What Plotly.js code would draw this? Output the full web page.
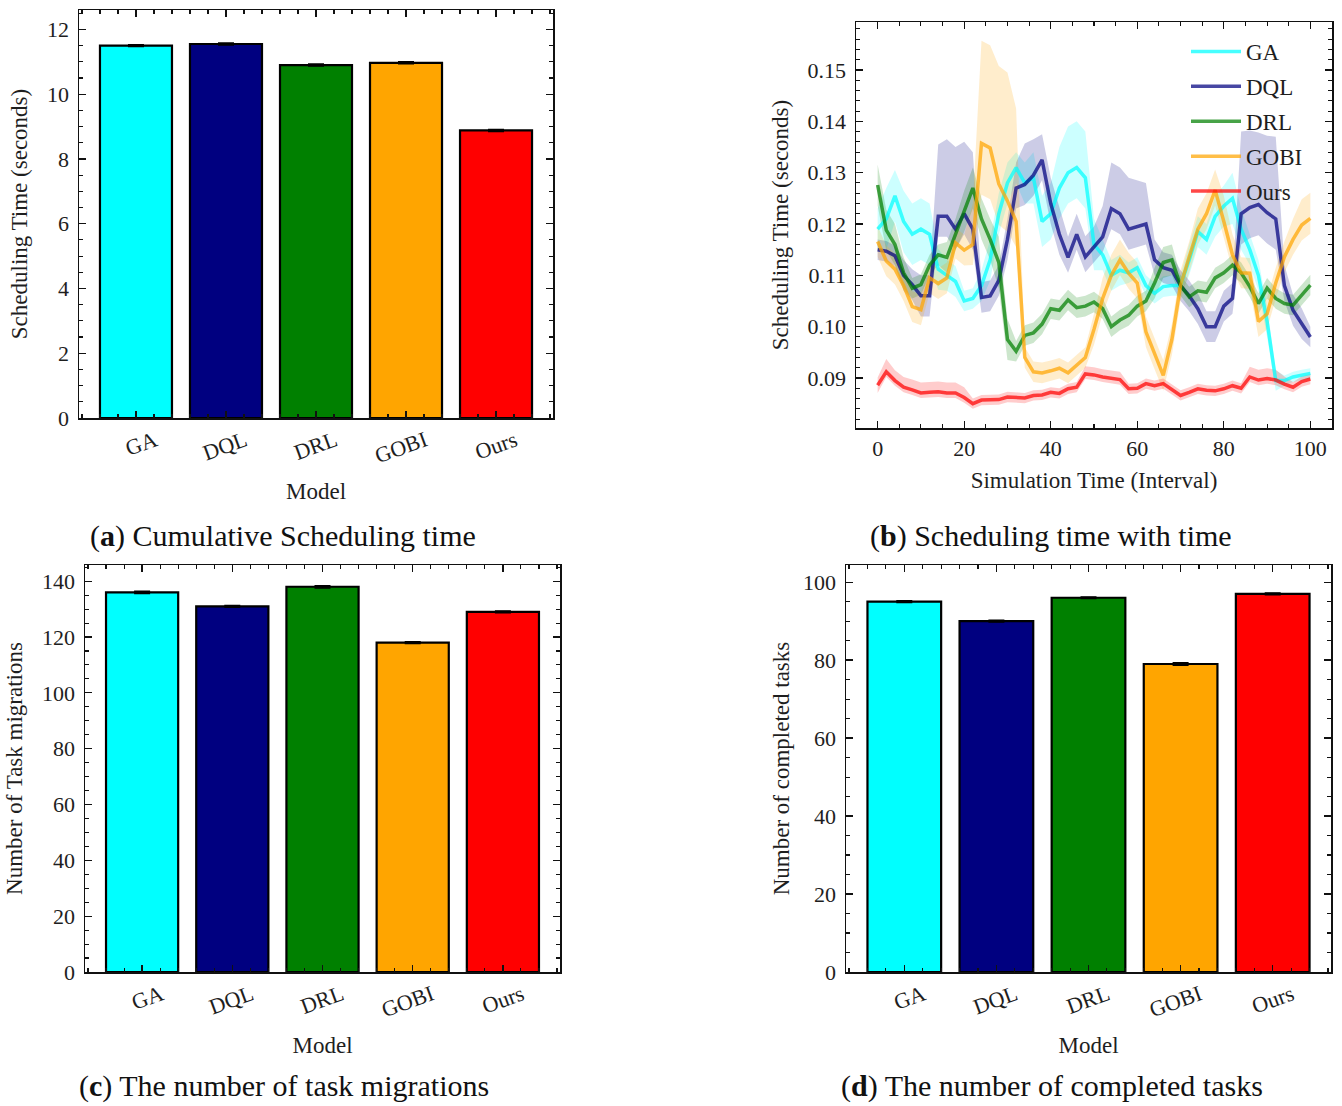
<!DOCTYPE html>
<html><head><meta charset="utf-8">
<script src="https://cdn.plot.ly/plotly-3.0.1.min.js"></script>
<style>html,body{margin:0;padding:0;background:#fff}#chart{width:1342px;height:1106px}</style>
</head><body><div id="chart"></div>
<script>
// ---------- data ----------
const models = ['GA', 'DQL', 'DRL', 'GOBI', 'Ours'];
const barColors = ['#00ffff', '#000080', '#008000', '#ffa500', '#ff0000'];

const schedTotal = [11.50, 11.55, 10.90, 10.97, 8.88];
const schedTotalErr = [0.03, 0.03, 0.03, 0.03, 0.03];
const migrations = [136, 131, 138, 118, 129];
const migrationsErr = [0.4, 0.3, 0.4, 0.3, 0.3];
const completed = [95, 90, 96, 79, 97];
const completedErr = [0.2, 0.2, 0.2, 0.3, 0.2];

const interval = [0,2,4,6,8,10,12,14,16,18,20,22,24,26,28,30,32,34,36,38,40,42,44,46,48,50,
  52,54,56,58,60,62,64,66,68,70,72,74,76,78,80,82,84,86,88,90,92,94,96,98,100];

const gaMean = [.1190,.1210,.1255,.1205,.1180,.1190,.1180,.1112,.1100,.1088,.1050,.1055,.1080,.1130,.1220,.1280,.1310,.1280,.1290,.1205,.1220,.1270,.1300,.1310,.1290,.1160,
  .1140,.1100,.1110,.1105,.1115,.1080,.1065,.1078,.1080,.1080,.1130,.1185,.1170,.1215,.1235,.1250,.1190,.1150,.1100,.1010,.0895,.0895,.0902,.0906,.0909];
const gaUp = [.004,.006,.005,.006,.006,.006,.006,.004,.003,.003,.002,.002,.003,.004,.004,.004,.003,.004,.005,.005,.006,.008,.009,.009,.009,.005,
  .003,.003,.003,.002,.002,.002,.002,.002,.002,.002,.003,.003,.003,.004,.004,.005,.004,.003,.003,.003,.002,.001,.001,.001,.001];
const gaDn = [.004,.006,.005,.006,.006,.006,.006,.004,.003,.003,.002,.002,.003,.004,.004,.004,.003,.004,.005,.005,.005,.006,.006,.006,.006,.005,
  .003,.003,.003,.002,.002,.002,.002,.002,.002,.002,.003,.003,.003,.004,.004,.005,.004,.003,.003,.003,.002,.001,.001,.001,.001];

const dqlMean = [.1150,.1147,.1138,.1100,.1082,.1060,.1060,.1215,.1215,.1190,.1220,.1190,.1057,.1060,.1090,.1170,.1270,.1277,.1295,.1325,.1240,.1180,.1135,.1180,.1136,.1155,
  .1175,.1230,.1220,.1190,.1195,.1200,.1130,.1115,.1110,.1080,.1060,.1035,.1000,.1000,.1040,.1055,.1220,.1232,.1238,.1222,.1210,.1080,.1032,.1006,.0980];
const dqlUp = [.002,.002,.002,.003,.003,.004,.004,.014,.015,.016,.014,.015,.003,.003,.003,.004,.005,.008,.007,.005,.005,.005,.004,.004,.004,.004,
  .006,.009,.009,.010,.009,.008,.004,.003,.003,.003,.003,.003,.003,.003,.003,.003,.016,.015,.014,.015,.016,.004,.003,.003,.002];
const dqlDn = [.002,.002,.002,.003,.003,.004,.004,.004,.004,.004,.004,.004,.003,.003,.003,.004,.004,.004,.004,.004,.004,.004,.003,.003,.003,.003,
  .003,.004,.004,.004,.004,.004,.003,.003,.003,.003,.003,.003,.003,.003,.003,.003,.006,.006,.006,.006,.006,.003,.003,.003,.002];

const drlMean = [.1276,.1188,.1160,.1105,.1075,.1082,.1120,.1140,.1135,.1180,.1225,.1270,.1210,.1170,.1125,.0975,.0952,.0983,.0988,.1005,.1035,.1032,.1052,.1037,.1040,.1048,
  .1035,.1000,.1013,.1022,.1040,.1050,.1085,.1125,.1130,.1080,.1058,.1070,.1067,.1095,.1105,.1120,.1105,.1078,.1045,.1075,.1055,.1045,.1042,.1062,.1081];
const drlSpread = [.004,.004,.004,.003,.002,.002,.002,.002,.003,.003,.004,.004,.004,.004,.005,.004,.002,.002,.002,.002,.002,.002,.002,.002,.002,.002,
  .002,.002,.002,.002,.002,.002,.003,.003,.003,.002,.002,.002,.002,.002,.002,.002,.002,.002,.002,.002,.002,.002,.002,.002,.002];

const gobiMean = [.1166,.1128,.1112,.1080,.1039,.1033,.1095,.1084,.1095,.1163,.1149,.1160,.1357,.1348,.1278,.1245,.1205,.0940,.0912,.0910,.0914,.0919,.0910,.0925,.0940,.0995,
  .1055,.1100,.1130,.1104,.1085,.0990,.0947,.0905,.0975,.1080,.1136,.1190,.1220,.1266,.1205,.1140,.1105,.1104,.1010,.1025,.1085,.1136,.1170,.1198,.1211];
const gobiUp = [.003,.003,.003,.003,.003,.003,.003,.003,.003,.003,.003,.008,.020,.020,.023,.025,.022,.002,.002,.002,.002,.002,.002,.002,.002,.003,
  .004,.004,.004,.004,.004,.003,.003,.003,.003,.003,.003,.004,.004,.004,.005,.004,.003,.003,.003,.003,.003,.003,.004,.005,.005];
const gobiDn = [.003,.003,.003,.003,.003,.003,.003,.003,.003,.003,.003,.004,.010,.010,.008,.006,.005,.002,.002,.002,.002,.002,.002,.002,.002,.003,
  .003,.003,.003,.003,.003,.003,.003,.003,.003,.003,.003,.003,.003,.003,.003,.003,.003,.003,.003,.003,.003,.003,.003,.003,.003];

const oursMean = [.0886,.0912,.0895,.0882,.0877,.0871,.0872,.0873,.0871,.0871,.0862,.0850,.0857,.0857,.0858,.0863,.0862,.0861,.0866,.0867,.0872,.0870,.0879,.0882,.0908,.0906,
  .0902,.0899,.0897,.0879,.0880,.0889,.0885,.0889,.0878,.0866,.0872,.0879,.0876,.0875,.0879,.0885,.0880,.0902,.0896,.0899,.0896,.0888,.0882,.0893,.0898];
const oursUp = [.0015,.0025,.002,.002,.002,.002,.002,.002,.002,.002,.002,.001,.001,.001,.001,.001,.001,.001,.001,.001,.001,.001,.001,.001,.0015,.0015,
  .0015,.0015,.0015,.001,.001,.001,.001,.001,.001,.001,.001,.001,.001,.001,.001,.001,.001,.002,.002,.002,.002,.0015,.001,.001,.001];
const oursDn = [.0015,.001,.001,.001,.001,.001,.001,.001,.001,.001,.001,.001,.001,.001,.001,.001,.001,.001,.001,.001,.001,.001,.001,.001,.001,.001,
  .001,.001,.001,.001,.001,.001,.001,.001,.001,.001,.001,.001,.001,.001,.001,.001,.001,.001,.001,.001,.001,.001,.001,.001,.001];

const lineSeries = [
  {name: 'GA',   mean: gaMean,   up: gaUp,      dn: gaDn,      rgb: '0,255,255'},
  {name: 'DQL',  mean: dqlMean,  up: dqlUp,     dn: dqlDn,     rgb: '0,0,128'},
  {name: 'DRL',  mean: drlMean,  up: drlSpread, dn: drlSpread, rgb: '0,128,0'},
  {name: 'GOBI', mean: gobiMean, up: gobiUp,    dn: gobiDn,    rgb: '255,165,0'},
  {name: 'Ours', mean: oursMean, up: oursUp,    dn: oursDn,    rgb: '255,0,0'}
];

// ---------- styling ----------
const FONT = "'Liberation Serif', 'Times New Roman', serif";
const TXT = '#1e1e1e';
const W = 1342, H = 1106;
const px = v => v / W;
const py = v => 1 - v / H;

function axisBase(extra) {
  return Object.assign({
    showline: true, linecolor: '#111', linewidth: 1.5, mirror: 'allticks',
    ticks: 'inside', ticklen: 7, tickwidth: 1.3, tickcolor: '#111',
    showgrid: false, zeroline: false,
    tickfont: {family: FONT, size: 22, color: TXT},
    fixedrange: true
  }, extra);
}
function barX(domain, anchor) {
  return axisBase({
    domain: domain, anchor: anchor, range: [-0.633, 4.633],
    tickmode: 'array', tickvals: [0, 1, 2, 3, 4], ticktext: models, tickangle: -20,
    ticklabelshift: 19,
    minor: {ticks: 'inside', ticklen: 4, tickwidth: 1.1, tickcolor: '#111', tick0: 0, dtick: 0.2},
    title: {text: 'Model', font: {family: FONT, size: 23, color: TXT}, standoff: 15}
  });
}

const data = [];
const barSets = [
  {vals: schedTotal, err: schedTotalErr, xa: 'x', ya: 'y'},
  {vals: migrations, err: migrationsErr, xa: 'x3', ya: 'y3'},
  {vals: completed, err: completedErr, xa: 'x4', ya: 'y4'}
];
barSets.forEach(s => {
  data.push({
    type: 'bar', x: [0, 1, 2, 3, 4], y: s.vals, width: 0.8,
    marker: {color: barColors, line: {color: '#000', width: 2.2}},
    error_y: {type: 'data', array: s.err, visible: true, color: '#000', thickness: 1.5, width: 8},
    xaxis: s.xa, yaxis: s.ya, showlegend: false, hoverinfo: 'skip'
  });
});

// shaded bands first
lineSeries.forEach(s => {
  const upper = s.mean.map((m, i) => m + s.up[i]);
  const lower = s.mean.map((m, i) => m - s.dn[i]);
  data.push({
    type: 'scatter', mode: 'lines',
    x: interval.concat(interval.slice().reverse()),
    y: upper.concat(lower.slice().reverse()),
    fill: 'toself', fillcolor: 'rgba(' + s.rgb + ',0.2)',
    line: {width: 0, color: 'rgba(0,0,0,0)'},
    xaxis: 'x2', yaxis: 'y2', showlegend: false, hoverinfo: 'skip'
  });
});
lineSeries.forEach(s => {
  data.push({
    type: 'scatter', mode: 'lines', name: s.name, legendgroup: s.name,
    x: interval, y: s.mean,
    line: {width: 3.5, color: 'rgba(' + s.rgb + ',0.72)'},
    xaxis: 'x2', yaxis: 'y2'
  });
});

const titleFont = {family: FONT, size: 23, color: TXT};
const minorY = d => ({ticks: 'inside', ticklen: 4, tickwidth: 1.1, tickcolor: '#111', dtick: d});

const layout = {
  width: W, height: H,
  margin: {l: 0, r: 0, t: 0, b: 0},
  paper_bgcolor: '#fff', plot_bgcolor: '#fff',
  font: {family: FONT, color: TXT},
  showlegend: true,
  legend: {
    x: px(1186), y: py(30), xanchor: 'left', yanchor: 'top',
    bgcolor: 'rgba(0,0,0,0)', borderwidth: 0,
    font: {family: FONT, size: 23, color: TXT},
    tracegroupgap: 2, itemwidth: 50
  },
  xaxis: barX([px(79), px(553)], 'y'),
  yaxis: axisBase({
    domain: [py(418), py(10)], anchor: 'x', range: [0, 12.6], dtick: 2,
    ticklabelstandoff: 4, minor: minorY(0.5),
    title: {text: 'Scheduling Time (seconds)', font: titleFont, standoff: 13}
  }),
  xaxis2: axisBase({
    domain: [px(856), px(1332)], anchor: 'y2', range: [-5, 105], dtick: 20,
    minor: minorY(5),
    title: {text: 'Simulation Time (Interval)', font: titleFont, standoff: 12}
  }),
  yaxis2: axisBase({
    domain: [py(428), py(22)], anchor: 'x2', range: [0.08026, 0.15935], dtick: 0.01, tickformat: '.2f',
    ticklabelstandoff: 4, minor: minorY(0.002),
    title: {text: 'Scheduling Time (seconds)', font: titleFont, standoff: 12}
  }),
  xaxis3: barX([px(85), px(560)], 'y3'),
  yaxis3: axisBase({
    domain: [py(972), py(565)], anchor: 'x3', range: [0, 145.8], dtick: 20,
    ticklabelstandoff: 4, minor: minorY(5),
    title: {text: 'Number of Task migrations', font: titleFont, standoff: 13}
  }),
  xaxis4: barX([px(846), px(1331)], 'y4'),
  yaxis4: axisBase({
    domain: [py(972), py(565)], anchor: 'x4', range: [0, 104.4], dtick: 20,
    ticklabelstandoff: 4, minor: minorY(5),
    title: {text: 'Number of completed tasks', font: titleFont, standoff: 7}
  }),
  annotations: [
    {text: '(<b>a</b>) Cumulative Scheduling time', x: px(283), y: py(536)},
    {text: '(<b>b</b>) Scheduling time with time', x: px(1051), y: py(536)},
    {text: '(<b>c</b>) The number of task migrations', x: px(284), y: py(1086)},
    {text: '(<b>d</b>) The number of completed tasks', x: px(1052), y: py(1086)}
  ].map(a => Object.assign(a, {
    xref: 'paper', yref: 'paper', xanchor: 'center', yanchor: 'middle', showarrow: false,
    font: {family: FONT, size: 30, color: '#111'}
  }))
};

Plotly.newPlot('chart', data, layout, {staticPlot: true, displayModeBar: false});
</script>
</body></html>
